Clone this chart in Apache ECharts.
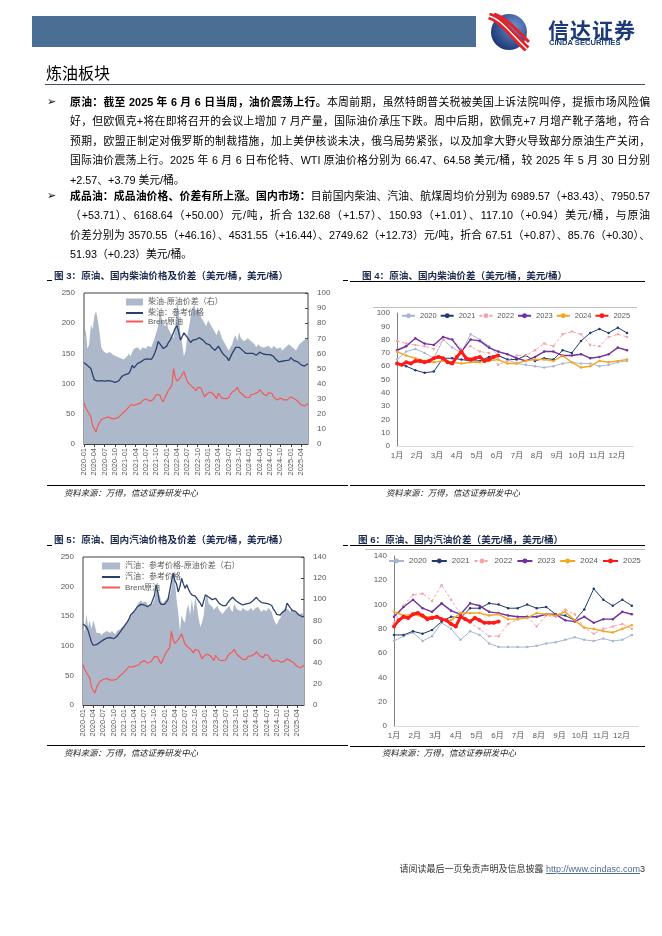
<!DOCTYPE html>
<html><head><meta charset="utf-8">
<script src="https://cdn.jsdelivr.net/npm/echarts@6/dist/echarts.min.js"></script>
<style>
html,body{margin:0;padding:0;background:#fff;}
#page{position:relative;width:662px;height:936px;overflow:hidden;font-family:"Liberation Sans","Noto Sans CJK SC",sans-serif;color:#000;}
#chart{position:absolute;left:0;top:0;width:662px;height:936px;}
.abs{position:absolute;}
.para{position:absolute;left:70px;width:580px;font-size:10.8px;line-height:19.4px;}
.ln{white-space:nowrap;}
.j{text-align:justify;text-align-last:justify;}
.bul{position:absolute;left:47px;font-family:"DejaVu Sans",sans-serif;font-size:11px;}
.ftitle{position:absolute;font-size:9.6px;font-weight:bold;color:#1a2a4e;white-space:nowrap;}
.src{position:absolute;font-size:8.4px;font-style:italic;color:#222;white-space:nowrap;}
.hl{position:absolute;height:1px;background:#000;}
</style></head>
<body><div id="page">
<div id="chart"></div>

<div class="abs" style="left:32px;top:16px;width:444px;height:31px;background:#4b6e94;"></div>
<svg class="abs" style="left:486px;top:13px" width="44" height="38" viewBox="0 0 44 38">
 <defs><radialGradient id="lg" cx="65%" cy="35%" r="70%"><stop offset="0" stop-color="#6f90cf"/><stop offset="1" stop-color="#1c3775"/></radialGradient></defs>
 <ellipse cx="23" cy="19" rx="18" ry="18" fill="url(#lg)"/>
 <path d="M3 3 C 15 6, 24 20, 41 36" stroke="#e2232b" stroke-width="7" fill="none"/>
 <path d="M3 3 C 15 6, 24 20, 41 36" stroke="#fff" stroke-width="1.3" fill="none"/>
 <path d="M8 1 C 20 5, 30 16, 43 29" stroke="#e2232b" stroke-width="3" fill="none"/>
</svg>
<div class="abs" style="left:548px;top:14px;font-size:21px;font-weight:bold;color:#1c3a7a;letter-spacing:1px;white-space:nowrap;font-family:'Noto Sans CJK SC';">信达证券</div>
<div class="abs" style="left:549px;top:38px;font-size:7.6px;font-weight:bold;color:#1c3a7a;white-space:nowrap;">CINDA SECURITIES</div>

<div class="abs" style="left:46px;top:60px;font-size:16px;white-space:nowrap;font-family:'Noto Sans CJK SC';">炼油板块</div>
<div class="hl" style="left:45px;top:84px;width:600px;background:#3f5068;"></div>

<div class="bul" style="top:95px">➢</div>
<div class="para" style="top:93px">
<div class="ln j"><b>原油：截至 2025 年 6 月 6 日当周，油价震荡上行。</b>本周前期，虽然特朗普关税被美国上诉法院叫停，提振市场风险偏</div>
<div class="ln j">好，但欧佩克+将在即将召开的会议上增加 7 月产量，国际油价承压下跌。周中后期，欧佩克+7 月增产靴子落地，符合</div>
<div class="ln j">预期，欧盟正制定对俄罗斯的制裁措施，加上美伊核谈未决，俄乌局势紧张，以及加拿大野火导致部分原油生产关闭，</div>
<div class="ln j">国际油价震荡上行。2025 年 6 月 6 日布伦特、WTI 原油价格分别为 66.47、64.58 美元/桶，较 2025 年 5 月 30 日分别</div>
<div class="ln">+2.57、+3.79 美元/桶。</div>
</div>
<div class="bul" style="top:189px">➢</div>
<div class="para" style="top:187px">
<div class="ln j"><b>成品油：成品油价格、价差有所上涨。国内市场：</b>目前国内柴油、汽油、航煤周均价分别为 6989.57（+83.43）、7950.57</div>
<div class="ln j">（+53.71）、6168.64（+50.00）元/吨，折合 132.68（+1.57）、150.93（+1.01）、117.10（+0.94）美元/桶，与原油</div>
<div class="ln j">价差分别为 3570.55（+46.16）、4531.55（+16.44）、2749.62（+12.73）元/吨，折合 67.51（+0.87）、85.76（+0.30）、</div>
<div class="ln">51.93（+0.23）美元/桶。</div>
</div>

<div class="ftitle" style="left:54px;top:268px">图 3：原油、国内柴油价格及价差（美元/桶，美元/桶）</div>
<div class="hl" style="left:47px;top:280px;width:5px"></div>
<div class="hl" style="left:343px;top:280px;width:5px"></div>
<div class="ftitle" style="left:362px;top:268px">图 4：原油、国内柴油价差（美元/桶，美元/桶）</div>
<div class="hl" style="left:350px;top:281px;width:295px"></div>
<div class="hl" style="left:373px;top:307px;width:264px;background:#bfbfbf"></div>
<div class="hl" style="left:47px;top:485px;width:301px"></div>
<div class="hl" style="left:350px;top:485px;width:295px"></div>
<div class="src" style="left:64px;top:486px">资料来源：万得，信达证券研发中心</div>
<div class="src" style="left:386px;top:486px">资料来源：万得，信达证券研发中心</div>

<div class="ftitle" style="left:54px;top:532px">图 5：原油、国内汽油价格及价差（美元/桶，美元/桶）</div>
<div class="hl" style="left:47px;top:545px;width:5px"></div>
<div class="hl" style="left:343px;top:545px;width:5px"></div>
<div class="ftitle" style="left:358px;top:532px">图 6：原油、国内汽油价差（美元/桶，美元/桶）</div>
<div class="hl" style="left:350px;top:545px;width:295px"></div>
<div class="hl" style="left:365px;top:549px;width:280px;background:#bfbfbf"></div>
<div class="hl" style="left:47px;top:745px;width:301px"></div>
<div class="hl" style="left:350px;top:746px;width:295px"></div>
<div class="src" style="left:64px;top:746px">资料来源：万得，信达证券研发中心</div>
<div class="src" style="left:382px;top:746px">资料来源：万得，信达证券研发中心</div>

<div class="abs" style="right:17px;top:862px;font-size:9px;white-space:nowrap;color:#333;">请阅读最后一页免责声明及信息披露 <span style="color:#4a6d94;text-decoration:underline;">http://www.cindasc.com</span>3</div>
</div>

<script>
// ---------- data ----------
const years = [2020, 2021, 2022, 2023, 2024, 2025];
const quarterTicks = ['2020-01','2020-04','2020-07','2020-10','2021-01','2021-04','2021-07','2021-10','2022-01','2022-04','2022-07','2022-10','2023-01','2023-04','2023-07','2023-10','2024-01','2024-04','2024-07','2024-10','2025-01','2025-04'];
const monthLabels = ['1月','2月','3月','4月','5月','6月','7月','8月','9月','10月','11月','12月'];

// half-month observations, 2020-01 ... 2025-06
const dieselPrice = [
 135,133,130,128,125,115,106,104,104,105,105,105,104,105,105,104,104,103,102,102,104,108,112,115,
 115,116,117,122,130,126,127,133,135,136,138,140,142,141,138,140,144,150,158,170,168,162,158,160,
 162,168,172,178,185,192,196,185,172,178,184,182,176,172,168,172,175,173,172,176,175,172,170,166,
 165,164,160,158,155,152,162,160,152,148,147,143,138,140,150,155,160,162,160,158,155,152,150,149,
 150,149,150,148,147,148,152,150,149,147,148,147,148,146,145,141,138,136,137,137,137,138,138,139,
 143,140,138,137,136,135,131,130,129,130,133];
const brentPrice = [
 68,60,55,56,45,30,25,20,30,35,40,42,43,43,45,45,42,41,42,39,44,47,50,51,
 55,56,61,65,68,64,63,66,68,68,72,75,75,72,71,70,73,76,82,85,81,74,70,77,
 83,89,93,97,125,110,104,106,110,113,120,118,103,105,97,100,92,88,94,95,92,85,78,82,
 83,86,84,83,80,75,84,82,76,76,75,74,76,82,86,84,90,94,87,90,82,80,77,78,
 77,82,82,83,84,86,90,88,83,82,80,85,86,84,78,78,73,73,76,75,73,73,73,74,
 78,79,75,75,71,73,65,66,63,64,67];
const dieselSpread = [
 70,76,63,66,79,76,85,88,82,74,64,62,61,60,60,61,60,59,59,58,58,57,57,56,
 57,58,60,58,61,63,62,64,63,62,64,63,63,65,66,64,67,70,74,78,88,84,80,78,
 80,76,74,72,70,78,95,86,72,66,58,62,72,78,85,90,92,88,90,86,84,82,80,78,
 82,80,78,76,74,72,76,74,70,68,66,64,62,64,66,70,72,68,74,70,70,68,68,70,
 70,68,67,66,64,66,65,64,63,64,64,65,64,63,65,64,63,62,64,62,62,64,65,66,
 66,64,63,62,64,66,66,68,69,70,68];
const gasolinePrice = [
 137,135,132,126,116,106,101,100,102,104,106,108,110,112,113,113,114,113,112,113,116,120,124,128,
 132,136,140,145,152,155,158,162,166,168,170,170,169,168,166,168,170,172,185,203,190,174,170,169,
 170,174,178,180,208,223,210,205,191,200,214,205,197,203,196,190,186,188,184,180,176,172,166,176,
 186,184,182,180,178,176,180,178,172,170,168,166,168,172,176,178,182,180,176,174,172,170,169,170,
 171,172,172,173,176,178,182,178,176,173,172,172,173,171,170,168,162,158,153,150,152,156,158,160,
 172,168,165,160,160,158,155,152,150,149,150];
const gasolineSpread = [
 72,70,86,74,80,72,80,75,68,67,68,66,68,69,70,69,68,70,69,67,70,71,72,74,
 74,76,78,80,84,86,88,90,95,97,99,97,96,98,95,93,94,96,100,108,110,104,98,96,
 97,100,99,103,110,125,120,100,88,70,85,80,78,90,95,85,100,88,102,94,82,74,78,85,
 100,104,96,95,93,90,92,94,90,88,86,88,90,92,94,90,88,96,92,90,91,89,92,90,
 91,89,90,92,89,91,92,93,90,88,90,91,89,92,90,88,82,78,76,80,82,86,90,92,
 93,90,88,91,89,87,88,86,85,87,84];

// seasonal spreads: 2020-2024 every two weeks, 2025 weekly
const dieselSeason = {
 2020: [65,71,73,70,66,80,74,70,84,80,75,68,65,62,61,60,59,60,62,63,62,62,60,61,63,64],
 2021: [62,60,57,55,56,66,66,65,64,64,67,68,65,65,68,64,66,65,72,70,79,85,88,85,89,85],
 2022: [79,77,76,75,73,80,80,73,75,71,70,61,64,68,68,72,77,75,84,86,84,76,75,82,84,82],
 2023: [72,75,81,77,76,82,80,71,80,79,74,71,69,66,64,67,71,71,68,68,69,66,67,69,74,72],
 2024: [71,68,66,64,63,64,63,62,63,63,64,65,62,62,64,65,65,64,68,63,59,60,64,63,64,65],
 2025: [62,61,63,62,64,64,63,64,66,67,66,63,62,67,71,66,65,66,67,64,65,67,68]
};
const gasolineSeason = {
 2020: [70,74,77,70,74,85,80,71,78,75,68,65,65,65,65,66,68,69,71,73,71,70,72,70,71,75],
 2021: [75,75,78,76,79,86,90,89,97,97,101,100,97,97,100,97,98,92,91,87,96,113,104,99,104,99],
 2022: [85,99,108,109,103,116,104,92,85,80,74,74,84,88,90,82,91,90,96,92,81,76,80,82,84,80],
 2023: [90,98,104,97,94,101,95,92,101,99,94,93,91,90,90,90,92,92,87,86,90,85,88,88,94,92],
 2024: [94,91,92,90,90,88,87,93,93,93,91,92,88,88,89,93,92,91,94,87,81,80,78,77,80,83],
 2025: [82,87,90,89,92,93,91,88,89,90,88,87,84,82,90,88,86,89,87,85,85,85,86]
};

// ---------- build ----------
const dates = [];
for (const y of years) for (let m = 1; m <= 12; m++) for (const h of ['a','b']) dates.push(y + '-' + String(m).padStart(2,'0') + h);
const cats = dates.slice(0, dieselPrice.length);
const showQ = (i, v) => v.endsWith('a') && quarterTicks.indexOf(v.slice(0,7)) >= 0;

const GRAY = '#595959';
const yearColors = {2020:'#a7b6d0',2021:'#1f3a6c',2022:'#f4a2aa',2023:'#7030a0',2024:'#f5a623',2025:'#ff1a1a'};
const WPM = 52.18/12;

function timeX(gi){
  return {type:'category', gridIndex:gi, data:cats, boundaryGap:false,
    axisLine:{lineStyle:{color:'#404040'}},
    axisTick:{show:true, interval:showQ, length:3, lineStyle:{color:'#404040'}},
    axisLabel:{interval:showQ, rotate:90, formatter:v=>v.slice(0,7), fontSize:7.5, color:GRAY, margin:4},
    splitLine:{show:false}};
}
function valY(gi, max, itv, pos){
  return {type:'value', gridIndex:gi, min:0, max:max, interval:itv, position:pos||'left',
    axisLine:{show:false}, splitLine:{show:false},
    axisTick:{show:pos==='right', inside:true, length:3, lineStyle:{color:'#404040'}},
    axisLabel:{fontSize:8, color:GRAY, margin:9}};
}
function seasonX(gi){
  return {type:'value', gridIndex:gi, min:0, max:51.3, interval:WPM,
    axisLine:{show:true, lineStyle:{color:'#d9d9d9'}}, axisTick:{show:false}, splitLine:{show:false},
    axisLabel:{fontSize:8, color:GRAY, margin:6, showMaxLabel:false,
      formatter:v=>monthLabels[Math.round(v/WPM)] || ''}};
}
function seasonY(gi, max, itv){
  return {type:'value', gridIndex:gi, min:0, max:max, interval:itv,
    axisLine:{show:true, lineStyle:{color:'#7f7f7f'}}, axisTick:{show:false}, splitLine:{show:false},
    axisLabel:{fontSize:8, color:GRAY, margin:7}};
}
function seasonSeries(obj, xi, yi){
  return years.map(y => {
    const step = y === 2025 ? 1 : 2;
    const is25 = y === 2025;
    return {name:String(y), type:'line', xAxisIndex:xi, yAxisIndex:yi,
      data: obj[y].map((v,i)=>[i*step, v]),
      symbol:'circle', symbolSize: is25 ? 4 : 2.5, showSymbol:true,
      lineStyle:{width: is25 ? 3 : (y===2023||y===2024 ? 1.4 : 1), color:yearColors[y], type: y===2022 ? [3,2] : 'solid'},
      itemStyle:{color:yearColors[y]}, z: is25 ? 10 : 3};
  });
}
const AREA = '#adb9ca', NAVY = '#2a4170', RED = '#f25a5a';
const s3 = ['柴油-原油价差（右）','柴油：参考价格','Brent原油'];
const s5 = ['汽油：参考价格-原油价差（右）','汽油：参考价格','Brent原油'];
const LEGTXT = {fontSize:8, color:GRAY};

const option = {
  animation:false,
  textStyle:{fontFamily:'"Liberation Sans","Noto Sans CJK SC",sans-serif'},
  grid:[
    {left:84, top:293, width:224, height:151, show:true, borderColor:'#404040', borderWidth:1},
    {left:397, top:313, width:236, height:133},
    {left:83, top:557, width:221, height:148, show:true, borderColor:'#404040', borderWidth:1},
    {left:394, top:556, width:244, height:170}
  ],
  xAxis:[timeX(0), seasonX(1), timeX(2), seasonX(3)],
  yAxis:[valY(0,250,50), valY(0,100,10,'right'), seasonY(1,100,10),
         valY(2,250,50), valY(2,140,20,'right'), seasonY(3,140,20)],
  legend:[
    {left:126, top:298, orient:'vertical', itemWidth:17, itemHeight:7, itemGap:0, padding:0,
     textStyle:LEGTXT, data:[{name:s3[0], icon:'rect'}]},
    {left:126, top:309, orient:'vertical', itemWidth:17, itemHeight:2, itemGap:0.5, padding:0,
     textStyle:LEGTXT, data:[{name:s3[1], icon:'rect'}, {name:s3[2], icon:'rect'}]},
    {left:102, top:562, orient:'vertical', itemWidth:18, itemHeight:7, itemGap:0, padding:0,
     textStyle:LEGTXT, data:[{name:s5[0], icon:'rect'}]},
    {left:102, top:573, orient:'vertical', itemWidth:18, itemHeight:2, itemGap:0.5, padding:0,
     textStyle:LEGTXT, data:[{name:s5[1], icon:'rect'}]},
    {left:102, top:583.5, orient:'vertical', itemWidth:18, itemHeight:2, itemGap:0.5, padding:0,
     textStyle:LEGTXT, data:[{name:s5[2], icon:'rect'}]},
    {left:401, top:312, width:250, itemWidth:13, itemHeight:6, itemGap:3, padding:0,
     textStyle:{fontSize:7.5, color:GRAY}, data:years.map(y=>String(y))},
    {left:388, top:557, width:270, itemWidth:15, itemHeight:6, itemGap:4, padding:0,
     textStyle:LEGTXT, data:years.map(y=>String(y))}
  ],
  series:[
    {name:s3[0], type:'line', xAxisIndex:0, yAxisIndex:1, data:dieselSpread, symbol:'none',
     lineStyle:{width:0}, itemStyle:{color:AREA}, areaStyle:{color:AREA, opacity:1}, z:1},
    {name:s3[1], type:'line', xAxisIndex:0, yAxisIndex:0, data:dieselPrice, symbol:'none',
     lineStyle:{width:1.3, color:NAVY}, itemStyle:{color:NAVY}, z:3},
    {name:s3[2], type:'line', xAxisIndex:0, yAxisIndex:0, data:brentPrice, symbol:'none',
     lineStyle:{width:1.2, color:RED}, itemStyle:{color:RED}, z:4},
    {name:s5[0], type:'line', xAxisIndex:2, yAxisIndex:4, data:gasolineSpread, symbol:'none',
     lineStyle:{width:0}, itemStyle:{color:AREA}, areaStyle:{color:AREA, opacity:1}, z:1},
    {name:s5[1], type:'line', xAxisIndex:2, yAxisIndex:3, data:gasolinePrice, symbol:'none',
     lineStyle:{width:1.3, color:NAVY}, itemStyle:{color:NAVY}, z:3},
    {name:s5[2], type:'line', xAxisIndex:2, yAxisIndex:3, data:brentPrice, symbol:'none',
     lineStyle:{width:1.2, color:RED}, itemStyle:{color:RED}, z:4}
  ].concat(seasonSeries(dieselSeason,1,2), seasonSeries(gasolineSeason,3,5))
};
const chart = echarts.init(document.getElementById('chart'), null, {renderer:'canvas'});
chart.setOption(option);
</script>
</body></html>
